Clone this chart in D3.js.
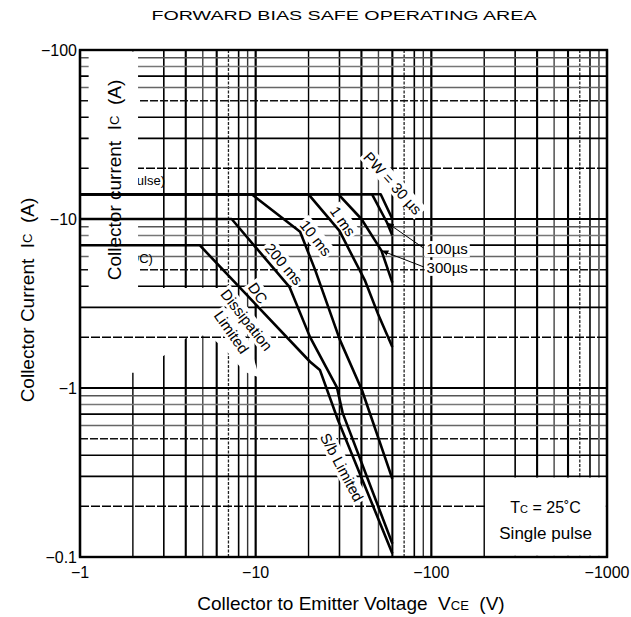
<!DOCTYPE html>
<html><head><meta charset="utf-8">
<script src="https://cdn.jsdelivr.net/npm/d3@7/dist/d3.min.js"></script>
<style>
html,body{margin:0;padding:0;background:#fff;}
svg text{font-family:"Liberation Sans",Arial,Helvetica,sans-serif;fill:#000;}
</style></head><body>
<svg id="chart" width="631" height="617"></svg>
<script>
// ---------- data ----------
const xTickValues = [1, 10, 100, 1000];
const xTickLabels = ["\u22121", "\u221210", "\u2212100", "\u22121000"];
const yTickValues = [0.1, 1, 10, 100];
const yTickLabels = ["\u22120.1", "\u22121", "\u221210", "\u2212100"];
const seriesNames = ["DC", "200 ms", "10 ms", "1 ms", "300 \u00b5s", "100 \u00b5s", "30 \u00b5s"];
// [V, A] (magnitudes)
const dcCurve    = [[1,7],[4.8,7],[20.4,1.43],[23.2,1.28],[29.4,0.647],[60,0.105]];
const ms200Curve = [[1,10],[7.3,10],[15.6,3.95],[20.4,2.0],[29,1.01],[31.3,0.71],[60,0.12]];
const ms10Curve  = [[1,14],[9.5,14],[17.9,8.4],[21.8,5.0],[30.2,1.92],[40.3,0.97],[60,0.29]];
const ms1Curve   = [[1,14],[20,14],[30,8.5],[42,4.3],[50,2.7],[60,1.75]];
const us300Curve = [[1,14],[29.6,14],[40,10],[52,6.5],[60,4.2]];
const us100Curve = [[1,14],[46,14],[56,9.5],[60,8]];
const us30Curve  = [[1,14],[51.5,14],[60,10]];
const curves = [dcCurve, ms200Curve, ms10Curve, ms1Curve, us300Curve, us100Curve, us30Curve];

// ---------- styles ----------
const vStyle = {1:[2.2,"#000",null],2:[1.4,"#000",null],3:[1.6,"#000",null],4:[2.1,"#000",null],5:[1.4,"#444",null],6:[2.1,"#000",null],7:[1.3,"#222","3,1.5"],8:[1.6,"#000",null],9:[1.4,"#333",null]};
const hStyle = {1:[2.1,"#000",null],2:[1.5,"#000","9,2"],3:[1.7,"#000",null],4:[1.7,"#000",null],5:[1.5,"#111","8,2"],6:[1.5,"#666",null],7:[1.7,"#000",null],8:[1.5,"#777",null],9:[1.5,"#555",null]};

const svg = d3.select("#chart");
const x = d3.scaleLog().domain([1, 1000]).range([80, 607]);
const y = d3.scaleLog().domain([0.1, 100]).range([557, 50]);
const digit = v => Math.round(v / Math.pow(10, Math.floor(Math.log10(v) + 1e-9)));

const gridX = []; for (let k = 0; k < 3; k++) for (let d = 1; d < 10; d++) gridX.push(d * Math.pow(10, k)); gridX.push(1000);
const gridY = []; for (let k = -1; k < 2; k++) for (let d = 1; d < 10; d++) gridY.push(d * Math.pow(10, k)); gridY.push(100);

// vertical grid
svg.append("g").selectAll("line").data(gridX).join("line")
  .attr("x1", d => x(d)).attr("x2", d => x(d)).attr("y1", y(100)).attr("y2", y(0.1))
  .attr("stroke", d => vStyle[digit(d)][1]).attr("stroke-width", d => vStyle[digit(d)][0])
  .attr("stroke-dasharray", d => vStyle[digit(d)][2]);

// blank region (erases vertical lines below DC line, left of labels)
const blankB = [[1.9,3.9],[7.5,3.9],[10.5,1.15],[8.6,1.25],[7.6,1.45],[6.8,1.66],[5.6,2.0],[4.3,2.1],[3.4,1.7],[2.6,1.4],[2.1,1.23],[1.9,1.23]];
svg.append("path").attr("d", d3.line().x(d => x(d[0])).y(d => y(d[1]))(blankB) + "Z").attr("fill", "#fff");

// horizontal grid
svg.append("g").selectAll("line").data(gridY).join("line")
  .attr("y1", d => y(d)).attr("y2", d => y(d)).attr("x1", x(1)).attr("x2", x(1000))
  .attr("stroke", d => hStyle[digit(d)][1]).attr("stroke-width", d => hStyle[digit(d)][0])
  .attr("stroke-dasharray", d => hStyle[digit(d)][2]);

// bottom-right annotation box (blank cells)
svg.append("rect").attr("x", x(200) + 1.2).attr("y", y(0.3) + 1.2)
  .attr("width", x(1000) - x(200) - 2.4).attr("height", y(0.1) - y(0.3) - 2.4).attr("fill", "#fff");

// partially hidden limit labels
const small = 13;
const tp = svg.append("text").attr("x", x(3.05)).attr("y", y(14) - 9).attr("text-anchor", "end").attr("font-size", small);
tp.append("tspan").text("I"); tp.append("tspan").attr("font-size", 9).text("C"); tp.append("tspan").text(" (pulse)");
const td = svg.append("text").attr("x", x(2.6)).attr("y", y(7) + 18).attr("text-anchor", "end").attr("font-size", small);
td.append("tspan").text("I"); td.append("tspan").attr("font-size", 9).text("C"); td.append("tspan").text(" (DC)");

// overlay blank for inner axis title
svg.append("rect").attr("x", x(1.12)).attr("y", y(100) + 1.5)
  .attr("width", x(2.14) - x(1.12)).attr("height", y(3.5) - y(100) - 1.5).attr("fill", "#fff");

// curve labels with white background
const labels = [
  {t:"PW = 30 \u00b5s", v:60.4, i:16.3, r:48},
  {t:"1 ms", v:31.4, i:9.7, r:55},
  {t:"10 ms", v:22.0, i:7.72, r:52},
  {t:"200 ms", v:14.5, i:5.42, r:50},
  {t:"DC", v:10.3, i:3.65, r:55},
  {t:"Dissipation", v:8.9, i:2.53, r:52},
  {t:"Limited", v:7.3, i:2.14, r:55},
  {t:"S/b Limited", v:31, i:0.34, r:62}
];
const bgLayer = svg.append("g");

// side labels with leaders
const sideLabels = [
  {t:"100\u00b5s", v:94, i:6.2, tv:56, ti:9.5},
  {t:"300\u00b5s", v:94, i:4.8, tv:52, ti:6.5}
];

// curves
const line = d3.line().x(d => x(d[0])).y(d => y(d[1]));
const curveLayer = svg.append("g");

// frame
svg.append("rect").attr("x", x(1)).attr("y", y(100)).attr("width", x(1000) - x(1)).attr("height", y(0.1) - y(100))
  .attr("fill", "none").attr("stroke", "#000").attr("stroke-width", 2.4);

// labels (text measured for backgrounds)
const topText = svg.append("g");
labels.forEach(l => {
  const g = topText.append("g").attr("transform", `translate(${x(l.v)},${y(l.i)}) rotate(${l.r})`);
  const t = g.append("text").attr("text-anchor", "middle").attr("dominant-baseline", "central")
    .attr("font-size", 15).text(l.t);
  const b = t.node().getBBox();
  bgLayer.append("rect").attr("transform", `translate(${x(l.v)},${y(l.i)}) rotate(${l.r})`)
    .attr("x", b.x - 2).attr("y", b.y).attr("width", b.width + 4).attr("height", b.height).attr("fill", "#fff");
});
sideLabels.forEach(l => {
  const t = topText.append("text").attr("x", x(l.v)).attr("y", y(l.i)).attr("font-size", 15).text(l.t);
  const b = t.node().getBBox();
  bgLayer.append("rect").attr("x", b.x - 2).attr("y", b.y + 1).attr("width", b.width + 4).attr("height", b.height - 1).attr("fill", "#fff");
});

curveLayer.selectAll("path").data(curves).join("path")
  .attr("d", line).attr("fill", "none").attr("stroke", "#000").attr("stroke-width", 2.6)
  .attr("stroke-linejoin", "round").attr("stroke-linecap", "butt");

// leaders with arrows
const defs = svg.append("defs");
defs.append("marker").attr("id", "arr").attr("viewBox", "0 0 10 10").attr("refX", 10).attr("refY", 5)
  .attr("markerWidth", 7).attr("markerHeight", 7).attr("orient", "auto")
  .append("path").attr("d", "M0,1 L10,5 L0,9 Z").attr("fill", "#000");
sideLabels.forEach(l => {
  svg.append("line").attr("x1", x(l.v) - 3).attr("y1", y(l.i) - 6).attr("x2", x(l.tv)).attr("y2", y(l.ti))
    .attr("stroke", "#000").attr("stroke-width", 1).attr("marker-end", "url(#arr)");
});
topText.raise();

// annotation text
const tc = svg.append("text").attr("x", (x(200) + x(1000)) / 2).attr("y", y(0.3) + 37).attr("text-anchor", "middle").attr("font-size", 16);
tc.append("tspan").text("T"); tc.append("tspan").attr("font-size", 11).text("C"); tc.append("tspan").text(" = 25\u02daC");
svg.append("text").attr("x", (x(200) + x(1000)) / 2).attr("y", y(0.1) - 18).attr("text-anchor", "middle").attr("font-size", 17).text("Single pulse");

// tick labels
svg.append("g").selectAll("text").data(xTickValues).join("text")
  .attr("x", d => x(d)).attr("y", y(0.1) + 21).attr("text-anchor", "middle").attr("font-size", 16)
  .text((d, i) => xTickLabels[i]);
svg.append("g").selectAll("text").data(yTickValues).join("text")
  .attr("x", x(1) - 3).attr("y", d => y(d)).attr("dy", "0.35em").attr("text-anchor", "end").attr("font-size", 16)
  .text((d, i) => yTickLabels[i]);

// axis titles
const xt = svg.append("text").attr("x", 351).attr("y", 610).attr("text-anchor", "middle").attr("font-size", 19);
xt.append("tspan").text("Collector to Emitter Voltage\u00a0\u00a0V");
xt.append("tspan").attr("font-size", 13).text("CE");
xt.append("tspan").text("\u00a0\u00a0(V)");

const yt = svg.append("text").attr("transform", "translate(27,300) rotate(-90)").attr("text-anchor", "middle")
  .attr("dominant-baseline", "central").attr("font-size", 19);
yt.append("tspan").text("Collector Current\u00a0\u00a0I");
yt.append("tspan").attr("font-size", 13).text("C");
yt.append("tspan").text("\u00a0\u00a0(A)");

const yt2 = svg.append("text").attr("transform", "translate(114,180) rotate(-90)").attr("text-anchor", "middle")
  .attr("dominant-baseline", "central").attr("font-size", 19);
yt2.append("tspan").text("Collector current\u00a0\u00a0I");
yt2.append("tspan").attr("font-size", 13).text("C");
yt2.append("tspan").text("\u00a0\u00a0(A)");

// chart title
svg.append("text").attr("x", 344).attr("y", 20).attr("text-anchor", "middle").attr("font-size", 13.5)
  .attr("textLength", 385).attr("lengthAdjust", "spacingAndGlyphs").text("FORWARD BIAS SAFE OPERATING AREA");
</script>
</body></html>
